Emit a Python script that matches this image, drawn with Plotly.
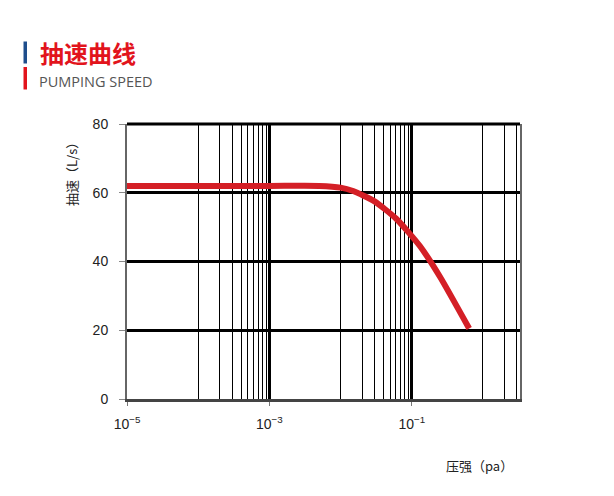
import plotly.graph_objects as go

# Data
pressure_pa = [1e-5, 1e-3, 5e-3, 0.01, 0.015, 0.03, 0.06, 0.13, 0.25, 0.64]
speed_ls = [62, 62, 62, 61.5, 60.5, 57.5, 52.5, 44.5, 35.5, 20.5]

y_ticks = [0, 20, 40, 60, 80]
x_major = [1e-5, 1e-3, 1e-1]
x_major_text = ["10<sup>−5</sup>", "10<sup>−3</sup>", "10<sup>−1</sup>"]
x_minor = [m * 10.0 ** e for e in (-4, -2, 0) for m in range(1, 10)]
x_minor = [v for v in x_minor if v <= 3.0]

OFF = 8  # page body margin
W, H = 614 - OFF, 496 - OFF
L, R, T, B = 127 - OFF, 94, 124 - OFF, 97
pw, ph = W - L - R, H - T - B


def px(x):
    return (x - OFF - L) / pw


def py(y):
    return (H - B - (y - OFF)) / ph


fig = go.Figure()
fig.add_trace(go.Scatter(
    x=pressure_pa, y=speed_ls, mode="lines",
    line=dict(color="#d41f26", width=6, shape="spline", smoothing=0.6),
    hoverinfo="skip", showlegend=False,
))

fig.update_layout(
    width=W, height=H,
    margin=dict(l=L, r=R, t=T, b=B),
    paper_bgcolor="white", plot_bgcolor="white",
    font=dict(family="Liberation Sans, Arial, sans-serif", size=13, color="#222"),
    xaxis=dict(
        type="log", range=[-5, 0.52],
        tickmode="array", tickvals=x_major, ticktext=x_major_text,
        ticks="outside", ticklen=4, tickcolor="#777", tickwidth=1,
        ticklabelstandoff=6,
        showgrid=True, gridcolor="black", gridwidth=2.5,
        minor=dict(tickmode="array", tickvals=x_minor, showgrid=True,
                   gridcolor="black", gridwidth=1, ticks=""),
        showline=True, linecolor="#444", linewidth=3, mirror=False,
        zeroline=False, tickfont=dict(size=14),
    ),
    yaxis=dict(
        range=[0, 80], tickmode="array", tickvals=y_ticks,
        ticks="outside", ticklen=6, tickcolor="#888", tickwidth=1,
        ticklabelstandoff=8,
        showgrid=True, gridcolor="black", gridwidth=3,
        showline=True, linecolor="#666", linewidth=2, mirror=True,
        zeroline=False, tickfont=dict(size=14),
    ),
    shapes=[
        dict(type="line", xref="paper", yref="paper",
             x0=0, x1=1, y0=1, y1=1, line=dict(color="black", width=3)),
        dict(type="rect", xref="paper", yref="paper",
             x0=px(23.5), x1=px(27), y0=py(63.5), y1=py(41.5),
             fillcolor="#1f4e8c", line=dict(width=0)),
        dict(type="rect", xref="paper", yref="paper",
             x0=px(23.5), x1=px(27), y0=py(89.5), y1=py(67),
             fillcolor="#e2141c", line=dict(width=0)),
    ],
    annotations=[
        dict(text="<b>抽速曲线</b>", xref="paper", yref="paper",
             x=px(38), y=py(53), xanchor="left", yanchor="middle",
             showarrow=False,
             font=dict(family="Noto Sans CJK SC", size=24, color="#e2141c")),
        dict(text="PUMPING SPEED", xref="paper", yref="paper",
             x=px(37), y=py(81), xanchor="left", yanchor="middle",
             showarrow=False,
             font=dict(family="Open Sans", size=14.5, color="#555")),
        dict(text="抽速（L/s）", xref="paper", yref="paper",
             x=px(71), y=py(171), xanchor="center", yanchor="middle",
             textangle=-90, showarrow=False,
             font=dict(family="Noto Sans CJK SC", size=13, color="#222")),
        dict(text="压强（pa）", xref="paper", yref="paper",
             x=px(444), y=py(465), xanchor="left", yanchor="middle",
             showarrow=False,
             font=dict(family="Noto Sans CJK SC", size=13, color="#222")),
    ],
)

fig.write_html("out.html")
